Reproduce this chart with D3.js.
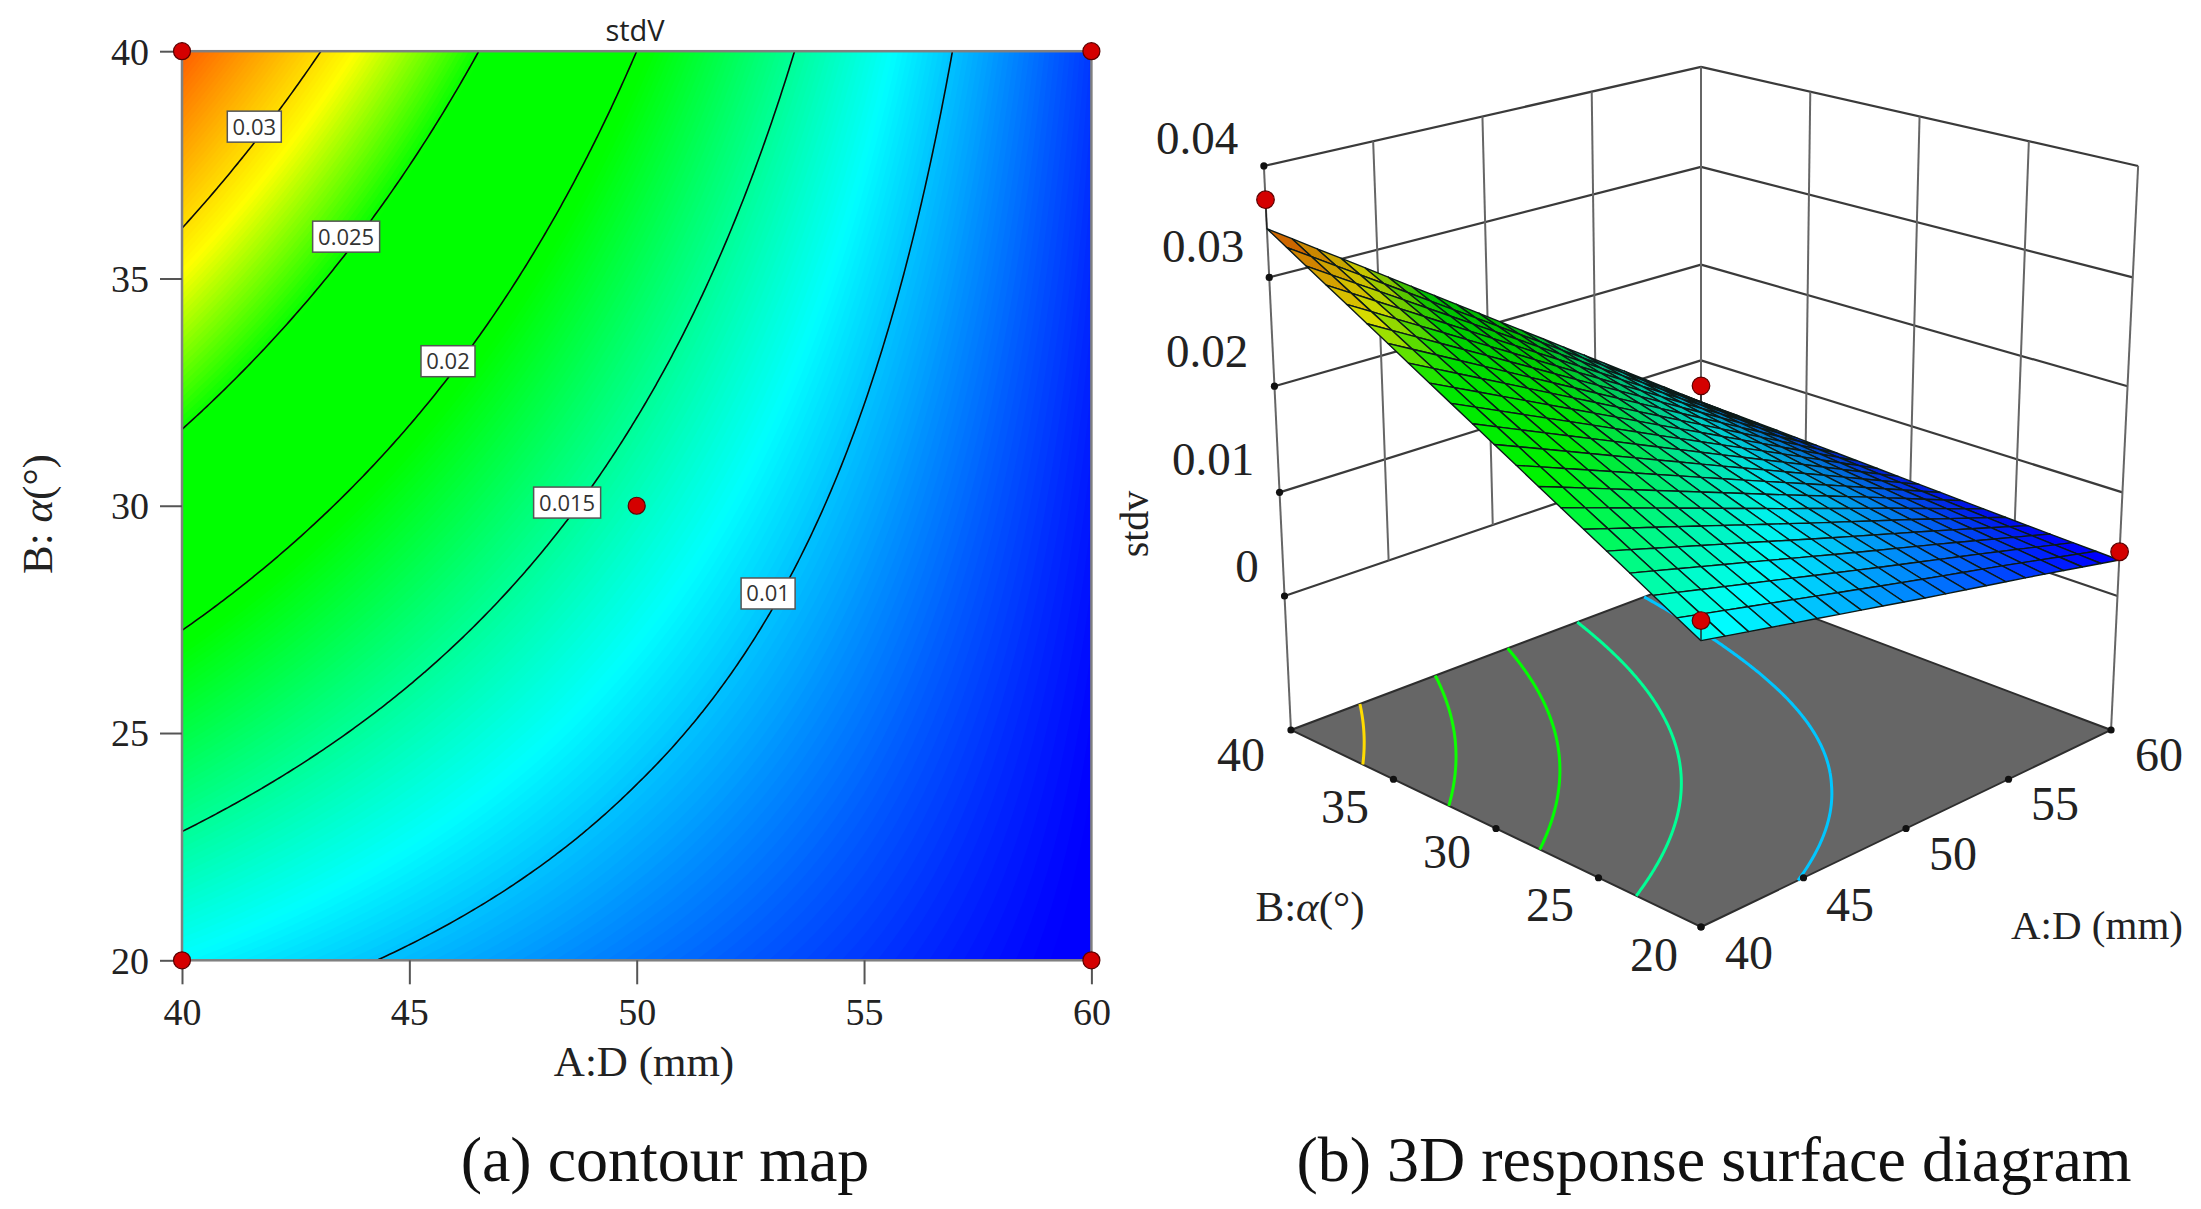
<!DOCTYPE html>
<html><head><meta charset="utf-8">
<script src="https://cdn.jsdelivr.net/npm/d3@7/dist/d3.min.js"></script>
<style>html,body{margin:0;padding:0;background:#fff}svg{display:block}</style>
</head><body><svg id="c" width="2201" height="1209"></svg>
<script>
// ---------- data ----------
const aTicks = [40, 45, 50, 55, 60];
const bTicks = [20, 25, 30, 35, 40];
const zTicks = [0, 0.01, 0.02, 0.03, 0.04];
// stdV at each tick crossing (rows follow bTicks, columns follow aTicks)
const stdvB20 = [0.0118, 0.0097, 0.0076, 0.0056, 0.0035];
const stdvB25 = [0.01745, 0.01408, 0.0107, 0.0074, 0.0040];
const stdvB30 = [0.0231, 0.01845, 0.0138, 0.0092, 0.00455];
const stdvB35 = [0.02875, 0.02283, 0.0169, 0.0110, 0.0051];
const stdvB40 = [0.0344, 0.0272, 0.0200, 0.0128, 0.0056];
const stdvRows = [stdvB20, stdvB25, stdvB30, stdvB35, stdvB40];
const contourLevels = [0.01, 0.015, 0.02, 0.025, 0.03];
const contourNames = ["0.01", "0.015", "0.02", "0.025", "0.03"];
const labelA = [52.89, 48.47, 45.85, 43.61, 41.59];
const labelB = [28.07, 30.07, 33.18, 35.92, 38.34];
const pointA = [40, 60, 50, 40, 60];
const pointB = [40, 40, 30, 20, 20];
const point3dA = [40, 60, 60, 40];
const point3dB = [40, 40, 20, 20];
const point3dZ = [0.0370, 0.0073, 0.0043, 0.0135];
const colorStops = [0.0038, 0.0118, 0.0195, 0.0248, 0.0288, 0.0375];
const colorNames = ["#0000ff", "#00ffff", "#00ff00", "#00ff00", "#ffff00", "#ff0000"];

// ---------- helpers ----------
const svg = d3.select("#c");
const serif = "'Liberation Serif','Times New Roman',serif";
const sans = "'Open Sans','Noto Sans',sans-serif";
const color = d3.scaleLinear().domain(colorStops).range(colorNames).interpolate(d3.interpolateRgb).clamp(true);
const aIdx = d3.scaleLinear().domain([40, 60]).range([0, aTicks.length - 1]);
const bIdx = d3.scaleLinear().domain([20, 40]).range([0, bTicks.length - 1]);
function stdv(a, b) {
  const u = aIdx(a), v = bIdx(b);
  const i = Math.min(Math.floor(u), aTicks.length - 2), j = Math.min(Math.floor(v), bTicks.length - 2);
  const f = u - i, g = v - j;
  return d3.interpolateNumber(
    d3.interpolateNumber(stdvRows[j][i], stdvRows[j][i + 1])(f),
    d3.interpolateNumber(stdvRows[j + 1][i], stdvRows[j + 1][i + 1])(f))(g);
}
const N = 181;
const gridA = d3.scaleLinear().domain([0.5, N - 0.5]).range([40, 60]);
const gridB = d3.scaleLinear().domain([0.5, N - 0.5]).range([20, 40]);
const field = new Float64Array(N * N);
for (let j = 0; j < N; j++) for (let i = 0; i < N; i++) field[j * N + i] = stdv(gridA(i + 0.5), gridB(j + 0.5));
const contourGen = d3.contours().size([N, N]);
function levelLines(level) {
  const out = [];
  contourGen.contour(field, level).coordinates.forEach(poly => poly.forEach(ring => {
    let cur = [];
    ring.forEach(p => {
      if (p[0] > 0 && p[0] < N && p[1] > 0 && p[1] < N) cur.push([gridA(p[0]), gridB(p[1])]);
      else { if (cur.length > 1) out.push(cur); cur = []; }
    });
    if (cur.length > 1) out.push(cur);
  }));
  return out;
}

// ---------- (a) contour map ----------
const x = d3.scaleLinear().domain([40, 60]).range([182, 1091.4]);
const y = d3.scaleLinear().domain([20, 40]).range([960.3, 51.2]);
svg.append("clipPath").attr("id", "plotClip").append("rect")
  .attr("x", x(40)).attr("y", y(40)).attr("width", x(60) - x(40)).attr("height", y(20) - y(40));
const plot = svg.append("g").attr("clip-path", "url(#plotClip)");
plot.append("rect").attr("x", x(40)).attr("y", y(40)).attr("width", x(60) - x(40)).attr("height", y(20) - y(40))
  .attr("fill", color(0));
const path2d = d3.geoPath(d3.geoTransform({ point(px, py) { this.stream.point(x(gridA(px)), y(gridB(py))); } }));
const bandLevels = d3.range(0.0034, 0.0345, 0.00016);
plot.selectAll("path.band").data(bandLevels).join("path").attr("class", "band")
  .attr("d", t => path2d(contourGen.contour(field, t)))
  .attr("fill", t => color(t)).attr("stroke", "none");
const line2d = d3.line().x(d => x(d[0])).y(d => y(d[1]));
contourLevels.forEach(level => {
  plot.selectAll(null).data(levelLines(level)).join("path").attr("d", line2d)
    .attr("fill", "none").attr("stroke", "#0a0a0a").attr("stroke-width", 1.6);
});
svg.append("rect").attr("x", x(40)).attr("y", y(40)).attr("width", x(60) - x(40)).attr("height", y(20) - y(40))
  .attr("fill", "none").attr("stroke", "#808080").attr("stroke-width", 2.5);

const xAxis = svg.append("g").attr("transform", `translate(0,${y(20)})`)
  .call(d3.axisBottom(x).tickValues(aTicks).tickSize(24).tickFormat(d3.format("d")));
const yAxis = svg.append("g").attr("transform", `translate(${x(40)},0)`)
  .call(d3.axisLeft(y).tickValues(bTicks).tickSize(22).tickFormat(d3.format("d")));
[xAxis, yAxis].forEach(g => {
  g.select(".domain").remove();
  g.selectAll("line").attr("stroke", "#555").attr("stroke-width", 2);
  g.selectAll("text").attr("font-family", serif).attr("font-size", 38).attr("fill", "#222");
});
xAxis.selectAll("text").attr("y", 0).attr("dy", 0).attr("transform", "translate(0,65)");
yAxis.selectAll("text").attr("x", -33).attr("dy", "0.34em");

function txt(px, py, s, size, opts = {}) {
  return svg.append("text").attr("x", px).attr("y", py).attr("text-anchor", opts.anchor || "middle")
    .attr("font-family", opts.family || serif).attr("font-size", size).attr("fill", opts.fill || "#222").text(s);
}
txt(644, 1076, "A:D (mm)", 43);
txt(635, 41, "stdV", 29, { family: sans });
const yt = svg.append("text").attr("transform", "translate(52,514) rotate(-90)").attr("text-anchor", "middle")
  .attr("font-family", serif).attr("font-size", 43).attr("fill", "#222").attr("xml:space", "preserve");
yt.append("tspan").text("B:\u00a0");
yt.append("tspan").attr("font-style", "italic").text("α");
yt.append("tspan").text("(°)");

contourLevels.forEach((level, i) => {
  const w = contourNames[i].length > 4 ? 67 : 54, h = 31;
  const cx = x(labelA[i]), cy = y(labelB[i]);
  svg.append("rect").attr("x", cx - w / 2).attr("y", cy - h / 2).attr("width", w).attr("height", h)
    .attr("fill", "#fff").attr("stroke", "#555").attr("stroke-width", 1.5);
  txt(cx, cy + 8, contourNames[i], 22, { family: sans, fill: "#333" });
});
svg.selectAll("circle.p2").data(pointA.map((a, i) => [a, pointB[i]])).join("circle").attr("class", "p2")
  .attr("cx", d => x(d[0])).attr("cy", d => y(d[1])).attr("r", 8.5)
  .attr("fill", "#d40000").attr("stroke", "#5a0000").attr("stroke-width", 1.2);

// ---------- (b) 3D response surface ----------
const sOf = d3.scaleLinear().domain([40, 60]).range([0, 1]);
const tOf = d3.scaleLinear().domain([20, 40]).range([0, 1]);
const hOf = d3.scaleLinear().domain([0, 0.04]).range([0.2493, 1]);
function proj(a, b, h) {
  const s = sOf(a), t = tOf(b);
  const w = 1 + 0.1377 * (s + t) - 0.0705 * h;
  return [1701 + 466.5 * (s - t) / w, (927 - 96.5 * (s + t) - 653.4 * h) / w];
}
const lerp2 = (p, q, f) => [p[0] + (q[0] - p[0]) * f, p[1] + (q[1] - p[1]) * f];
// evenly spaced marks along a straight box edge, as in the reference
const onLeftWall = (a, h) => lerp2(proj(40, 40, h), proj(60, 40, h), sOf(a));
const onRightWall = (b, h) => lerp2(proj(60, 20, h), proj(60, 40, h), tOf(b));
const g3 = svg.append("g");
const seg = (p, q, sw, col) => g3.append("line").attr("x1", p[0]).attr("y1", p[1]).attr("x2", q[0]).attr("y2", q[1])
  .attr("stroke", col || "#3a3a3a").attr("stroke-width", sw);
// walls
zTicks.forEach(z => {
  const h = hOf(z);
  seg(proj(40, 40, h), proj(60, 40, h), 2.2);
  seg(proj(60, 40, h), proj(60, 20, h), 2.2);
});
aTicks.slice(1, -1).forEach(a => seg(onLeftWall(a, 1), onLeftWall(a, hOf(0)), 2, "#666"));
bTicks.slice(1, -1).forEach(b => seg(onRightWall(b, 1), onRightWall(b, hOf(0)), 2, "#666"));
seg(proj(60, 40, 1), proj(60, 40, hOf(0)), 2, "#666");
seg(proj(40, 40, 1), proj(40, 40, 0), 2, "#666");
seg(proj(60, 20, 1), proj(60, 20, 0), 2, "#666");
// floor
const floorPts = [[40, 20], [60, 20], [60, 40], [40, 40]].map(d => proj(d[0], d[1], 0));
g3.append("polygon").attr("points", floorPts.map(p => p.join(",")).join(" "))
  .attr("fill", "#666666").attr("stroke", "#2e2e2e").attr("stroke-width", 2);
const line3 = d3.line().x(d => proj(d[0], d[1], 0)[0]).y(d => proj(d[0], d[1], 0)[1]);
contourLevels.forEach(level => {
  g3.selectAll(null).data(levelLines(level)).join("path").attr("d", line3)
    .attr("fill", "none").attr("stroke", color(level)).attr("stroke-width", 3);
});
// axis tick dots
const tickDots = [];
zTicks.forEach(z => tickDots.push(proj(40, 40, hOf(z))));
aTicks.forEach(a => tickDots.push(lerp2(proj(40, 20, 0), proj(60, 20, 0), sOf(a))));
bTicks.forEach(b => tickDots.push(lerp2(proj(40, 20, 0), proj(40, 40, 0), tOf(b))));
g3.selectAll("circle.td").data(tickDots).join("circle").attr("class", "td")
  .attr("cx", d => d[0]).attr("cy", d => d[1]).attr("r", 3.6).attr("fill", "#111");
// surface mesh, back to front
const meshA = d3.scaleLinear().domain([0, 20]).range([40, 60]);
const meshB = d3.scaleLinear().domain([0, 20]).range([20, 40]);
const quads = [];
for (let i = 19; i >= 0; i--) for (let j = 19; j >= 0; j--) quads.push([i, j]);
quads.sort((p, q) => (q[0] + q[1]) - (p[0] + p[1]));
const corner = (i, j) => proj(meshA(i), meshB(j), hOf(stdv(meshA(i), meshB(j))));
function shaded(i, j) {
  const a = meshA(i + 0.5), b = meshB(j + 0.5), s = sOf(a), t = tOf(b);
  const c = d3.rgb(color(stdv(a, b)));
  const f = 1 - 0.2 * Math.pow(t, 1.5) - 0.2 * s * t;
  return d3.rgb(c.r * f, c.g * f, c.b * f).formatRgb();
}
g3.selectAll("polygon.q").data(quads).join("polygon").attr("class", "q")
  .attr("points", ([i, j]) => [corner(i, j), corner(i + 1, j), corner(i + 1, j + 1), corner(i, j + 1)].map(p => p.join(",")).join(" "))
  .attr("fill", ([i, j]) => shaded(i, j))
  .attr("stroke", "#0c1a18").attr("stroke-width", 1.4).attr("stroke-linejoin", "round");
// design points
point3dA.forEach((a, i) => {
  const b = point3dB[i], p = proj(a, b, hOf(point3dZ[i])), q = proj(a, b, hOf(stdv(a, b)));
  seg(p, q, 1.4, "#222");
  g3.append("circle").attr("cx", p[0]).attr("cy", p[1]).attr("r", 8.8)
    .attr("fill", "#d40000").attr("stroke", "#5a0000").attr("stroke-width", 1.2);
});
// 3D labels
const zLabelX = [1247, 1213, 1207, 1203, 1197], zLabelY = [566, 459, 351, 246, 138];
zTicks.forEach((z, i) => txt(zLabelX[i], zLabelY[i] + 16, z === 0 ? "0" : String(z), 47));
const bLabelX = [1654, 1550, 1447, 1345, 1241], bLabelY = [955, 905, 852, 807, 755];
const aLabelX = [1749, 1850, 1953, 2055, 2159], aLabelY = [953, 905, 854, 804, 755];
bTicks.forEach((b, i) => txt(bLabelX[i], bLabelY[i] + 16, String(b), 48));
aTicks.forEach((a, i) => txt(aLabelX[i], aLabelY[i] + 16, String(a), 48));
const bt = svg.append("text").attr("x", 1310).attr("y", 921).attr("text-anchor", "middle")
  .attr("font-family", serif).attr("font-size", 43).attr("fill", "#222");
bt.append("tspan").text("B:");
bt.append("tspan").attr("font-style", "italic").text("α");
bt.append("tspan").text("(°)");
txt(2097, 939, "A:D (mm)", 41);
svg.append("text").attr("transform", "translate(1148,524) rotate(-90)").attr("text-anchor", "middle")
  .attr("font-family", serif).attr("font-size", 40).attr("fill", "#222").text("stdv");
// captions
txt(665, 1181, "(a) contour map", 64, { fill: "#111" });
txt(1714, 1181, "(b) 3D response surface diagram", 64, { fill: "#111" });
</script></body></html>
